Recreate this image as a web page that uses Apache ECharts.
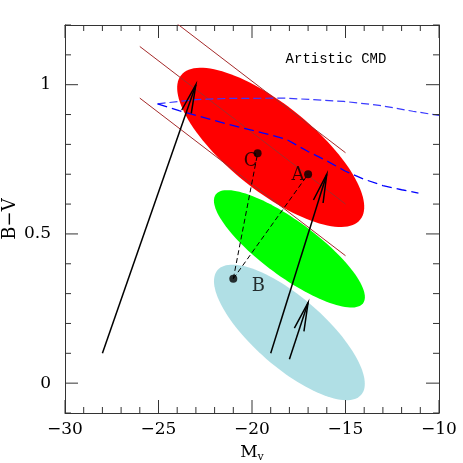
<!DOCTYPE html>
<html>
<head>
<meta charset="utf-8">
<script src="https://cdn.jsdelivr.net/npm/echarts@6/dist/echarts.min.js"></script>
<style>
  html, body { margin: 0; padding: 0; background: #fff; }
  #chart { width: 463px; height: 463px; }
</style>
</head>
<body>
<div id="chart"></div>
<script>
  // axis ticks
  const xMajorTicks = [-30, -25, -20, -15, -10]
  const xMinorTicks = [-29, -28, -27, -26, -24, -23, -22, -21, -19, -18, -17, -16, -14, -13, -12, -11]
  const yMajorTicks = [0, 0.5, 1]
  const yMinorTicks = [-0.1, 0.1, 0.2, 0.3, 0.4, 0.6, 0.7, 0.8, 0.9, 1.1, 1.2]
  const xRange = [-30, -10]
  const yRange = [-0.1, 1.2]

  // ellipses: centre, semi-major vector, semi-minor vector (data units)
  const ellipseCenter = [[-19.0, 0.79], [-18.0, 0.45], [-18.0, 0.17]]
  const ellipseMajor = [[4.79, -0.242], [3.94, -0.182], [3.84, -0.209]]
  const ellipseMinor = [[-1.44, -0.112], [-0.877, -0.0745], [-1.23, -0.0888]]
  const ellipseColor = ['#ff0000', '#00ff00', '#b0dfe5']

  // colour-magnitude relation lines
  const cmrX = [-26, -15]
  const cmrUpper = [1.30, 0.772]
  const cmrMid = [1.128, 0.600]
  const cmrLower = [0.955, 0.427]

  // blue dashed tracks
  const trackUpperX = [-25.05, -23.0, -21.3, -18.2, -15.1, -13.2, -11.4, -10.0]
  const trackUpperY = [0.936, 0.950, 0.954, 0.955, 0.944, 0.931, 0.911, 0.897]
  const trackLowerX = [-25.05, -23.9, -21.2, -19.4, -18.2, -17.0, -16.0, -15.0, -14.0, -13.0, -12.0, -11.1]
  const trackLowerY = [0.936, 0.913, 0.866, 0.838, 0.818, 0.776, 0.745, 0.710, 0.683, 0.662, 0.648, 0.637]

  // arrows: from (x, y) to (x, y)
  const arrowFromX = [-28, -19, -18]
  const arrowFromY = [0.10, 0.10, 0.08]
  const arrowToX = [-23, -16, -17]
  const arrowToY = [1.00, 0.70, 0.27]

  // labelled points
  const pointNames = ['A', 'B', 'C']
  const pointX = [-17.0, -21.0, -19.7]
  const pointY = [0.70, 0.35, 0.77]

  const minus = (v) => (v < 0 ? '\u2212' + Math.abs(v) : String(v))
  const serif = 'DejaVu Serif'
  const frame = '#333'

  const makeX = (position, withLabels) => ({
    type: 'value', position, min: xRange[0], max: xRange[1], interval: 5,
    axisLine: { show: true, onZero: false, lineStyle: { color: frame, width: 1 } },
    axisTick: { show: false },
    axisLabel: withLabels
      ? { show: true, formatter: minus, fontFamily: serif, fontSize: 17, color: '#000', margin: 8 }
      : { show: false },
    splitLine: { show: false }
  })
  const makeY = (position, withLabels) => ({
    type: 'value', position, min: yRange[0], max: yRange[1], interval: 0.1,
    axisLine: { show: true, onZero: false, lineStyle: { color: frame, width: 1 } },
    axisTick: { show: false },
    axisLabel: withLabels
      ? { show: true, customValues: yMajorTicks, formatter: minus, fontFamily: serif, fontSize: 17, color: '#000', margin: 14 }
      : { show: false },
    splitLine: { show: false }
  })

  const xAxes = [makeX('bottom', true), makeX('top', false)]
  Object.assign(xAxes[0], {
    name: '{m|M}{s|v}', nameLocation: 'middle', nameGap: 30, nameMoveOverlap: false,
    nameTextStyle: {
      rich: {
        m: { fontFamily: serif, fontSize: 17, color: '#000' },
        s: { fontFamily: serif, fontSize: 11, color: '#000', padding: [9, 0, 0, 0] }
      }
    }
  })
  const yAxes = [makeY('left', true), makeY('right', false)]
  Object.assign(yAxes[0], {
    name: 'B\u2212V', nameLocation: 'middle', nameGap: 46, nameRotate: 90, nameMoveOverlap: false,
    nameTextStyle: { fontFamily: serif, fontSize: 18, color: '#000' }
  })

  // tick marks, one series per side, placed through the axis scales
  const bottomTicks = [...xMajorTicks.map((v) => [v, 1]), ...xMinorTicks.map((v) => [v, 0])]
  const leftTicks = [...yMajorTicks.map((v) => [v, 1]), ...yMinorTicks.map((v) => [v, 0])]
  const tickStyle = { stroke: frame, lineWidth: 1, fill: null }

  const renderXTick = (edgeValue, dir) => (params, api) => {
    const len = api.value(1) ? 13 : 6
    const p = api.coord([api.value(0), edgeValue])
    return { type: 'polyline', shape: { points: [[p[0], p[1]], [p[0], p[1] + dir * len]] }, style: tickStyle }
  }
  const renderYTick = (edgeValue, dir) => (params, api) => {
    const len = api.value(1) ? 13 : 6
    const p = api.coord([edgeValue, api.value(0)])
    return { type: 'polyline', shape: { points: [[p[0], p[1]], [p[0] + dir * len, p[1]]] }, style: tickStyle }
  }
  const tickSeries = (renderItem, data) => ({
    type: 'custom', renderItem, data, silent: true, clip: false, z: 20,
    encode: { x: -1, y: -1 }
  })

  const ellipseData = ellipseCenter.map((c, i) => [
    c[0], c[1],
    c[0] + ellipseMajor[i][0], c[1] + ellipseMajor[i][1],
    c[0] + ellipseMinor[i][0], c[1] + ellipseMinor[i][1]
  ])

  const renderEllipse = (params, api) => {
    const c = api.coord([api.value(0), api.value(1)])
    const m = api.coord([api.value(2), api.value(3)])
    const n = api.coord([api.value(4), api.value(5)])
    const pts = []
    for (let k = 0; k < 120; k++) {
      const t = (k / 120) * Math.PI * 2
      pts.push([
        c[0] + Math.cos(t) * (m[0] - c[0]) + Math.sin(t) * (n[0] - c[0]),
        c[1] + Math.cos(t) * (m[1] - c[1]) + Math.sin(t) * (n[1] - c[1])
      ])
    }
    return {
      type: 'polygon',
      shape: { points: pts },
      style: { fill: ellipseColor[params.dataIndex], stroke: null }
    }
  }

  const renderArrow = (params, api) => {
    const p0 = api.coord([api.value(0), api.value(1)])
    const p1 = api.coord([api.value(2), api.value(3)])
    const ang = Math.atan2(p0[1] - p1[1], p0[0] - p1[0])
    const head = 29
    const spread = (10 * Math.PI) / 180
    const b1 = [p1[0] + head * Math.cos(ang + spread), p1[1] + head * Math.sin(ang + spread)]
    const b2 = [p1[0] + head * Math.cos(ang - spread), p1[1] + head * Math.sin(ang - spread)]
    const style = { stroke: '#000', lineWidth: 1.5, fill: null }
    return {
      type: 'group',
      children: [
        { type: 'polyline', shape: { points: [p0, p1] }, style },
        { type: 'polyline', shape: { points: [b1, p1, b2] }, style }
      ]
    }
  }

  const lineOf = (xs, ys, color, width, type) => ({
    type: 'line',
    data: xs.map((x, i) => [x, ys[i]]),
    symbol: 'none',
    silent: true,
    lineStyle: { color, width, type },
    z: 3
  })

  const pt = (name) => {
    const i = pointNames.indexOf(name)
    return [pointX[i], pointY[i]]
  }
  const labelOffsets = { A: [-10, 1], B: [25, 8], C: [-7, 8] }

  const chart = echarts.init(document.getElementById('chart'))
  chart.setOption({
    animation: false,
    backgroundColor: '#fff',
    grid: { left: 65, right: 24, top: 25, bottom: 50, outerBoundsMode: 'none', containLabel: false },
    xAxis: xAxes,
    yAxis: yAxes,
    graphic: [{
      type: 'text', x: 336, y: 59,
      style: { text: 'Artistic CMD', font: '14px "Liberation Mono"', fill: '#000', align: 'center', verticalAlign: 'middle' }
    }],
    series: [
      { type: 'custom', renderItem: renderEllipse, data: ellipseData, silent: true, z: 1 },
      lineOf(cmrX, cmrUpper, '#a52a2a', 1, 'solid'),
      lineOf(cmrX, cmrMid, '#a52a2a', 1, 'solid'),
      lineOf(cmrX, cmrLower, '#a52a2a', 1, 'solid'),
      lineOf(trackUpperX, trackUpperY, '#3a3aff', 1.2, [8, 4]),
      lineOf(trackLowerX, trackLowerY, '#0000ff', 1.3, [10, 5]),
      lineOf([pt('B')[0], pt('C')[0]], [pt('B')[1], pt('C')[1]], '#000', 1, [5, 3]),
      lineOf([pt('B')[0], pt('A')[0]], [pt('B')[1], pt('A')[1]], '#000', 1, [5, 3]),
      {
        type: 'custom', renderItem: renderArrow, silent: true, z: 4,
        data: arrowFromX.map((x, i) => [x, arrowFromY[i], arrowToX[i], arrowToY[i]])
      },
      {
        type: 'scatter', symbolSize: 8, silent: true, z: 5,
        itemStyle: { color: '#000' },
        data: pointNames.map((n, i) => ({
          value: [pointX[i], pointY[i]],
          label: {
            show: true, formatter: n, position: 'inside', offset: labelOffsets[n],
            fontFamily: serif, fontSize: 18, color: '#000'
          }
        }))
      },
      tickSeries(renderXTick(yRange[0], -1), bottomTicks),
      tickSeries(renderXTick(yRange[1], 1), bottomTicks),
      tickSeries(renderYTick(xRange[0], 1), leftTicks),
      tickSeries(renderYTick(xRange[1], -1), leftTicks)
    ]
  })
</script>
</body>
</html>
